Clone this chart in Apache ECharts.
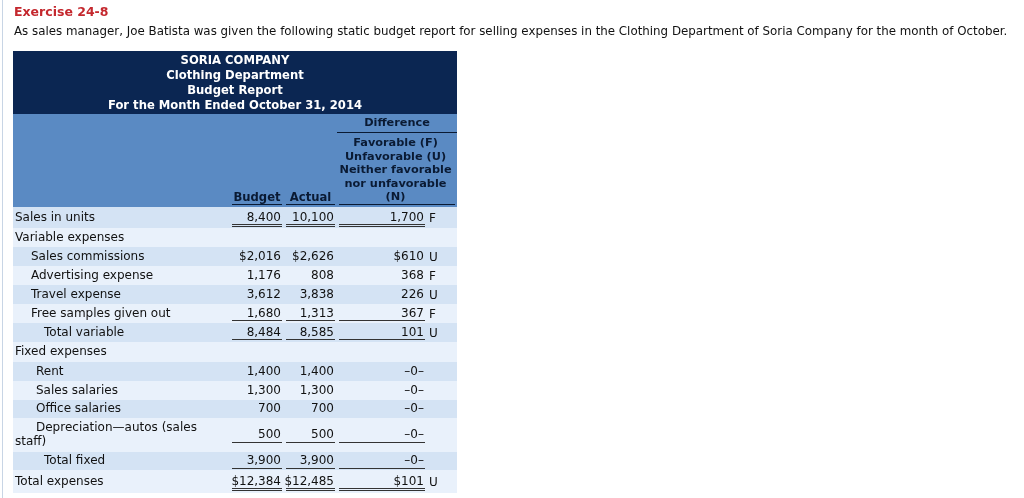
<!DOCTYPE html>
<html><head><meta charset="utf-8">
<script src="https://cdn.jsdelivr.net/npm/echarts/dist/echarts.min.js"></script>
<style>html,body{margin:0;padding:0;background:#fff}#c{width:1024px;height:498px}</style>
</head><body><div id="c"></div>
<script>
// ---------- content ----------
const titleText = 'Exercise 24-8';
const subtitleText = 'As sales manager, Joe Batista was given the following static budget report for selling expenses in the Clothing Department of Soria Company for the month of October.';
const headerLines = ['SORIA COMPANY', 'Clothing Department', 'Budget Report', 'For the Month Ended October 31, 2014'];
const columnHeaders = ['Budget', 'Actual'];
const diffTitle = 'Difference';
const diffHeaderLines = ['Favorable (F)', 'Unfavorable (U)', 'Neither favorable', 'nor unfavorable', '(N)'];
const categories = ['Sales in units', 'Variable expenses', 'Sales commissions', 'Advertising expense', 'Travel expense',
  'Free samples given out', 'Total variable', 'Fixed expenses', 'Rent', 'Sales salaries', 'Office salaries',
  'Depreciation\u2014autos (sales\nstaff)', 'Total fixed', 'Total expenses'];
const budget     = [8400, null, 2016, 1176, 3612, 1680, 8484, null, 1400, 1300, 700, 500, 3900, 12384];
const actual     = [10100, null, 2626, 808, 3838, 1313, 8585, null, 1400, 1300, 700, 500, 3900, 12485];
const difference = [1700, null, 610, 368, 226, 367, 101, null, 0, 0, 0, 0, 0, 101];
const diffFlag   = ['F', '', 'U', 'F', 'U', 'F', 'U', '', '', '', '', '', '', 'U'];
const dollarRows = [2, 13];
const indentLevel = [0, 0, 1, 1, 1, 1, 2, 0, 3, 3, 3, 3, 2, 0];
const underlineType = ['double', '', '', '', '', 'single', 'single', '', '', '', '', 'single', 'single', 'double'];

// ---------- layout ----------
const W = 1024, H = 498;
const tableLeft = 13, tableRight = 457;
const navyTop = 51, navyBottom = 114, headBottom = 207;
const rowHeights = [21, 19, 19, 19, 19, 19, 19, 20, 19, 19, 18, 34, 18, 23];
const indentPx = [15, 31, 44, 36];
const cols = [{ l: 232, r: 282 }, { l: 286, r: 335 }, { l: 339, r: 425 }];
const FONT = '"DejaVu Sans", Verdana, sans-serif';
const C = { navy: '#0b2652', head: '#5a8ac3', dark: '#d4e3f4', light: '#e9f1fb', text: '#111111', rule: '#333333', headText: '#0a1a33' };

const rowTops = [];
{ let y = headBottom; rowHeights.forEach(h => { rowTops.push(y); y += h; }); }

function fmt(v, dollar) {
  if (v === null || v === undefined) return '';
  if (v === 0) return '\u20130\u2013';
  return (dollar ? '$' : '') + v.toLocaleString('en-US');
}

function txt(p, s, align, font, fill) {
  return { type: 'text', x: p[0], y: p[1], silent: true,
    style: { text: s, font: font, fill: fill, textAlign: align, textVerticalAlign: 'middle' } };
}
function hline(a, b, color) {
  return { type: 'line', silent: true, shape: { x1: a[0], y1: Math.round(a[1]) + 0.5, x2: b[0], y2: Math.round(b[1]) + 0.5 },
    style: { stroke: color, lineWidth: 1 } };
}
function rect(a, b, color) {
  return { type: 'rect', silent: true, shape: { x: a[0], y: a[1], width: b[0] - a[0], height: b[1] - a[1] }, style: { fill: color } };
}

function renderHeader(params, api) {
  const P = (x, y) => api.coord([x, y]);
  const ch = [];
  ch.push({ type: 'line', silent: true, shape: { x1: 2.5, y1: 0, x2: 2.5, y2: H }, style: { stroke: '#c8d5e5', lineWidth: 1 } });
  ch.push(rect(P(tableLeft, navyTop), P(tableRight, navyBottom), C.navy));
  ch.push(rect(P(tableLeft, navyBottom), P(tableRight, headBottom), C.head));
  const cx = (tableLeft + tableRight) / 2;
  headerLines.forEach((s, i) => ch.push(txt(P(cx, 60.5 + i * 15), s, 'center', 'bold 11.6px ' + FONT, '#ffffff')));
  ch.push(txt(P(397, 123.5), diffTitle, 'center', 'bold 11.3px ' + FONT, C.headText));
  ch.push(hline(P(337, 132), P(tableRight, 132), C.headText));
  diffHeaderLines.forEach((s, i) => ch.push(txt(P(395.5, 143 + i * 13.6), s, 'center', 'bold 11.3px ' + FONT, C.headText)));
  columnHeaders.forEach((s, i) => {
    const c = cols[i];
    ch.push(txt(P((c.l + c.r) / 2, 197.5), s, 'center', 'bold 11.6px ' + FONT, C.headText));
    ch.push(hline(P(c.l, 204), P(c.r, 204), C.headText));
  });
  ch.push(hline(P(cols[2].l, 204), P(455, 204), C.headText));
  return { type: 'group', children: ch };
}

function renderRow(params, api) {
  const i = api.value(0);
  const P = (x, y) => api.coord([x, y]);
  const top = rowTops[i], h = rowHeights[i], mid = top + h / 2;
  const ch = [];
  ch.push(rect(P(tableLeft, top), P(tableRight, top + h), i % 2 === 0 ? C.dark : C.light));
  const lines = categories[i].split('\n');
  const lh = 14;
  lines.forEach((s, k) => {
    const y = mid - (lines.length - 1) * lh / 2 + k * lh;
    const x = k === 0 ? indentPx[indentLevel[i]] : indentPx[0];
    ch.push(txt(P(x, y), s, 'left', '12px ' + FONT, C.text));
  });
  const dollar = dollarRows.indexOf(i) >= 0;
  const vals = [budget[i], actual[i], difference[i]];
  vals.forEach((v, k) => {
    if (v === null) return;
    ch.push(txt(P(cols[k].r - 1, mid), fmt(v, dollar), 'right', '12px ' + FONT, C.text));
  });
  if (diffFlag[i]) ch.push(txt(P(cols[2].r + 4, mid + 1), diffFlag[i], 'left', '12px ' + FONT, C.text));
  const u = underlineType[i];
  if (u) {
    cols.forEach(c => {
      ch.push(hline(P(c.l, mid + 6.5), P(c.r, mid + 6.5), C.rule));
      if (u === 'double') ch.push(hline(P(c.l, mid + 8.5), P(c.r, mid + 8.5), C.rule));
    });
  }
  return { type: 'group', children: ch };
}

const chart = echarts.init(document.getElementById('c'), null, { renderer: 'canvas' });
chart.setOption({
  animation: false,
  backgroundColor: '#ffffff',
  title: {
    text: titleText, subtext: subtitleText, left: 9, top: 1, itemGap: 7,
    textStyle: { color: '#c4282e', fontFamily: FONT, fontWeight: 'bold', fontSize: 12.5 },
    subtextStyle: { color: '#111111', fontFamily: FONT, fontSize: 11.85 }
  },
  grid: { left: 0, right: 0, top: 0, bottom: 0 },
  xAxis: { type: 'value', min: 0, max: W, show: false },
  yAxis: { type: 'value', min: 0, max: H, inverse: true, show: false },
  series: [
    { type: 'custom', clip: false, silent: true, data: [[0]], renderItem: renderHeader, z: 1 },
    { type: 'custom', clip: false, silent: true, data: categories.map((c, i) => [i]), renderItem: renderRow, z: 2 }
  ]
});
</script></body></html>
